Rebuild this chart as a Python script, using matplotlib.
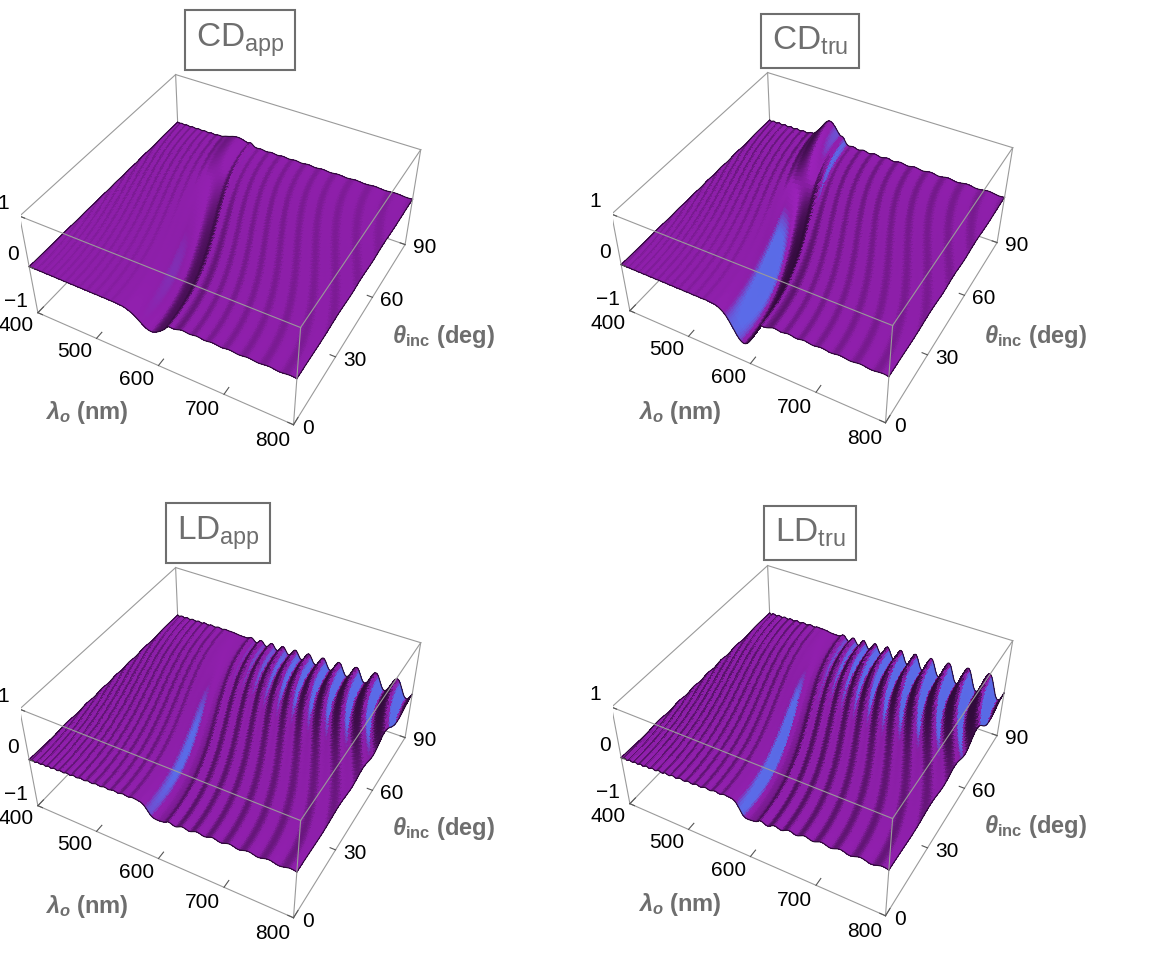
import numpy as np
import matplotlib
matplotlib.use("Agg")
import matplotlib.pyplot as plt
from matplotlib.text import Text

plt.rcParams["font.family"] = ["Liberation Sans", "DejaVu Sans"]
plt.rcParams["mathtext.fontset"] = "custom"
plt.rcParams["mathtext.it"] = "Liberation Sans:italic:bold"
plt.rcParams["mathtext.rm"] = "Liberation Sans:bold"
plt.rcParams["mathtext.sf"] = "Liberation Sans"

# ---- axes / ticks ----
lam_ticks = [400, 500, 600, 700, 800]
theta_ticks = [0, 30, 60, 90]
z_ticks = [-1, 0, 1]

panel_titles = [r"CD$_{\mathsf{app}}$", r"CD$_{\mathsf{tru}}$",
                r"LD$_{\mathsf{app}}$", r"LD$_{\mathsf{tru}}$"]

# ---- values ----
# Bragg feature centre (nm) at normal and at grazing incidence
bragg_centre_normal = 592.0
bragg_centre_grazing = 510.0
# thickness-fringe optical path (nm), sets fringe spacing ~20 nm at 620 nm
fringe_opd = 20000.0

# per panel: CD_app, CD_tru, LD_app, LD_tru
trough_normal = [-0.30, -0.60, 0.0, 0.0]
trough_grazing = [0.10, 0.40, 0.0, 0.0]
trough_width = [24.0, 22.0, 18.0, 18.0]
rim_height = [0.04, 0.06, 0.03, 0.04]
plateau_normal = [0.0, 0.0, 0.12, 0.14]
plateau_grazing = [0.0, 0.0, 0.03, 0.04]
drop_below = [0.0, 0.0, 0.18, 0.22]
drop_width = [8.0, 8.0, 8.0, 7.0]
fringe_right_normal = [0.010, 0.012, 0.020, 0.024]
fringe_right_grazing = [0.008, 0.014, 0.18, 0.25]
fringe_right_growth = [0, 0, 1, 1]
fringe_left_normal = [0.002, 0.003, 0.010, 0.013]
fringe_left_grazing = [0.006, 0.010, 0.010, 0.013]

# sampling grid of the surfaces
lam = np.linspace(400, 800, 251)
theta = np.linspace(0, 90, 61)

BOX = (1.04, 1.0, 0.465)
ELEV, AZIM = 41.5, -61.0
PURPLE = np.array([0.55, 0.12, 0.66])
BLUE = np.array([0.30, 0.52, 1.00])
EDGE = "#9a9a9a"
LABEL_GRAY = "#6e6e6e"

W, H = 1152, 966
axes_centres = [(223, 237), (815, 235), (223, 730), (815, 728)]
title_centres = [(240, 40), (810, 41), (218, 533), (810, 533)]
lam_label_pos = [(87, 413), (680, 413), (87, 907), (680, 905)]
theta_label_pos = [(443, 337), (1035, 337), (443, 828), (1035, 826)]


def surface(i):
    L, T = np.meshgrid(lam, theta)
    s2 = np.sin(np.radians(T)) ** 2
    k = 1 - (bragg_centre_grazing / bragg_centre_normal) ** 2
    g = np.sqrt(1 - k * s2)
    lc = bragg_centre_normal * g
    w = 18.0 * g
    d = L - lc

    # circular-dichroism trough that turns into a ridge near grazing incidence
    amp = trough_normal[i] + (trough_grazing[i] - trough_normal[i]) * s2 ** 2
    z = amp * np.exp(-(d / (trough_width[i] * g)) ** 2)
    z += rim_height[i] * np.exp(-((d - 1.5 * w) / 4.0) ** 2)

    # linear-dichroism plateau on the short-wave side, drop across the band
    fade = 1 - s2 ** 2
    plat = plateau_grazing[i] + (plateau_normal[i] - plateau_grazing[i]) * fade
    step = 0.5 * (1 + np.tanh((d + 0.2 * w) / drop_width[i]))
    z += plat * (L - 400) / (lc - 400) * (1 - step)
    z -= drop_below[i] * fade * step * np.exp(-np.clip(d, 0, None) / 70.0)

    # thickness fringes on both sides of the band
    phase = 2 * np.pi * fringe_opd * g / L
    right_gate = 0.5 * (1 + np.tanh((d - 1.7 * w) / 5.0))
    left_gate = 0.5 * (1 - np.tanh((d + 1.3 * w) / 5.0))
    ramp = np.clip((L - lc) / (800 - lc), 0, 1) ** fringe_right_growth[i]
    a_r = fringe_right_normal[i] + (fringe_right_grazing[i] - fringe_right_normal[i]) * s2 ** 4 * ramp
    a_l = fringe_left_normal[i] + (fringe_left_grazing[i] - fringe_left_normal[i]) * s2
    z += a_r * right_gate * np.sin(phase)
    z += a_l * left_gate * np.sin(phase)
    return z


def colours(z):
    dz_dt, dz_dl = np.gradient(z, theta, lam)
    gx = dz_dl * (BOX[2] / 2) / (BOX[0] / 400)
    gy = dz_dt * (BOX[2] / 2) / (BOX[1] / 90)
    n = np.stack([-gx, -gy, np.ones_like(z)], axis=-1)
    n /= np.linalg.norm(n, axis=-1, keepdims=True)
    a, e = np.radians(AZIM), np.radians(ELEV)
    right = np.array([-np.sin(a), np.cos(a), 0.0])
    view = np.array([np.cos(e) * np.cos(a), np.cos(e) * np.sin(a), np.sin(e)])
    sr = n @ right
    sv = n @ view
    bright = 1 + 0.4 * (sv - np.sin(e))
    bright *= 1 + 0.6 * np.minimum(sr, 0)
    bright = np.clip(bright, 0.35, 1.22)
    blue = 0.75 * np.clip((sr - 0.6) / 0.2, 0, 1) ** 1.3
    rgb = PURPLE * bright[..., None]
    rgb = rgb * (1 - blue[..., None]) + BLUE * blue[..., None]
    rgb = np.clip(rgb, 0, 1)
    return np.concatenate([rgb, np.ones(z.shape + (1,))], axis=-1)


fig = plt.figure(figsize=(W / 100, H / 100), dpi=100)
SIZE = 404

for i in range(4):
    cx, cy = axes_centres[i]
    rect = [(cx - SIZE / 2) / W, 1 - (cy + SIZE / 2) / H, SIZE / W, SIZE / H]
    ax = fig.add_axes(rect, projection="3d", computed_zorder=False)
    ax.set_proj_type("persp", focal_length=0.44)
    ax.view_init(elev=ELEV, azim=AZIM)
    ax.set_box_aspect(BOX)
    ax.set_xlim(400, 800)
    ax.set_ylim(0, 90)
    ax.set_zlim(-1, 1)
    ax.set_xticks([])
    ax.set_yticks([])
    ax.set_zticks([])
    ax.set_axis_off()

    # box edges hidden by the surface
    hidden = [((400, 400), (90, 90), (-1, 1)),
              ((400, 800), (90, 90), (-1, -1)),
              ((400, 400), (0, 90), (-1, -1))]
    for xs, ys, zs in hidden:
        ax.plot(xs, ys, zs, color=EDGE, lw=0.8, zorder=1)

    z = surface(i)
    L, T = np.meshgrid(lam, theta)
    ax.plot_surface(L, T, z, facecolors=colours(z), rstride=1, cstride=1,
                    linewidth=0, antialiased=False, shade=False, zorder=2)
    dark = "#2a0a33"
    ax.plot(lam, np.zeros_like(lam), z[0], color=dark, lw=0.8, zorder=3)
    ax.plot(lam, np.full_like(lam, 90), z[-1], color=dark, lw=0.8, zorder=3)
    ax.plot(np.full_like(theta, 800), theta, z[:, -1], color=dark, lw=0.8, zorder=3)
    ax.plot(np.full_like(theta, 400), theta, z[:, 0], color=dark, lw=0.8, zorder=3)

    visible = [((400, 800), (0, 0), (1, 1)), ((800, 800), (0, 90), (1, 1)),
               ((800, 400), (90, 90), (1, 1)), ((400, 400), (90, 0), (1, 1)),
               ((400, 400), (0, 0), (-1, 1)), ((800, 800), (0, 0), (-1, 1)),
               ((800, 800), (90, 90), (-1, 1)),
               ((400, 800), (0, 0), (-1, -1)), ((800, 800), (0, 90), (-1, -1))]
    for xs, ys, zs in visible:
        ax.plot(xs, ys, zs, color=EDGE, lw=0.8, zorder=4)

    for t in lam_ticks:
        ax.plot((t, t), (0, 3), (-1, -1), color="#555555", lw=0.8, zorder=4)
        ax.text(t - 12, -8, -1, str(t), fontsize=15, ha="center", va="center", zorder=5)
    for t in theta_ticks:
        ax.plot((800, 792), (t, t), (-1, -1), color="#555555", lw=0.8, zorder=4)
        ax.text(812, t, -1, str(t), fontsize=15, ha="left", va="center", zorder=5)
    for t in z_ticks:
        ax.plot((400, 408), (0, 0), (t, t), color="#555555", lw=0.8, zorder=4)
        label = "\u22121" if t < 0 else str(t)
        ax.text(386, 0, t + 0.18, label, fontsize=15, ha="right", va="center", zorder=5)

    # unused (empty) axis texts of the 3D axes
    for t in ax.findobj(Text):
        if not t.get_text():
            t.set_visible(False)

    x, y = lam_label_pos[i]
    fig.text(x / W, 1 - y / H, r"$\lambda_o$ (nm)", fontsize=17, fontweight="bold",
             color=LABEL_GRAY, ha="center", va="center")
    x, y = theta_label_pos[i]
    fig.text(x / W, 1 - y / H, r"$\theta_{\mathrm{inc}}$ (deg)", fontsize=17,
             fontweight="bold", color=LABEL_GRAY, ha="center", va="center")
    x, y = title_centres[i]
    fig.text(x / W, 1 - y / H, panel_titles[i], fontsize=24, color=LABEL_GRAY,
             ha="center", va="center",
             bbox=dict(boxstyle="square,pad=0.33", fc="white", ec=LABEL_GRAY, lw=1.5))

fig.savefig("out.png", dpi=100)
